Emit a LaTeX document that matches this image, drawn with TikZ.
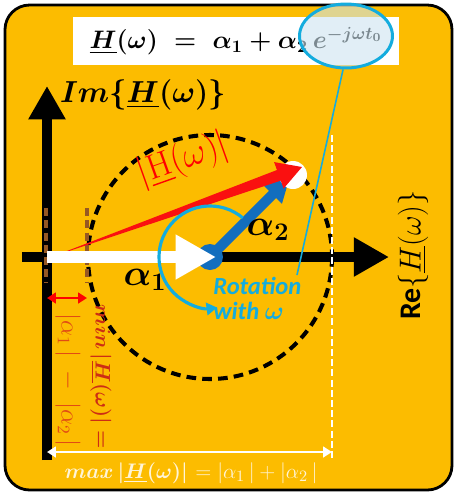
\documentclass[tikz,border=0pt]{standalone}
\usepackage{amsmath,amssymb}
\usepackage{fontspec}
\newfontfamily\calibfont{Carlito}
\usepackage{tikz}
\usetikzlibrary{arrows.meta,calc,positioning,shapes.geometric}

\definecolor{gold}{RGB}{252,188,0}
\definecolor{skyline}{RGB}{20,172,222}
\definecolor{ellfill}{RGB}{205,228,240}
\definecolor{phasorblue}{RGB}{18,110,190}
\definecolor{dashbrown}{RGB}{150,88,35}
\definecolor{wedgered}{RGB}{250,16,16}
\definecolor{minred}{RGB}{205,45,20}
\definecolor{diffred}{RGB}{225,75,20}
\definecolor{cream}{RGB}{255,244,214}

\begin{document}
\begin{tikzpicture}[
    x=0.02cm, y=-0.02cm,
    titlebox/.style={fill=white, minimum width=6.54cm, minimum height=0.96cm, inner sep=0pt, font=\boldmath\fontsize{14.4}{16}\selectfont},
    ellmark/.style={ellipse, draw=skyline, line width=1.7pt, fill=ellfill, fill opacity=0.6, minimum width=1.86cm, minimum height=1.28cm, inner sep=0pt},
    axisline/.style={line width=6.2pt, -{Triangle[length=19pt,width=20pt]}},
    ring/.style={line width=2.3pt, dash pattern=on 5.5pt off 3.5pt},
    brownmark/.style={dashbrown, line width=2.2pt, dash pattern=on 4.5pt off 2.5pt},
    whitemark/.style={white, line width=1.7pt, dash pattern=on 4pt off 1.8pt},
    spanarrow/.style={line width=1.7pt, {Triangle[length=5pt,width=6pt]}-{Triangle[length=5pt,width=6pt]}},
    lbl/.style={inner sep=0pt, font=\boldmath\fontsize{20.74}{22}\selectfont}
]
    \useasboundingbox (0,0) rectangle (457,495);
    \draw[line width=1.6pt, fill=gold, rounded corners=14pt] (5,5) rectangle (452,490);

    \node[titlebox] (title) at (236,41) {$\underline{H}(\omega)\ =\ \alpha_1+\alpha_2\,e^{-j\omega t_0}$};
    \node[ellmark] (ell) at (346,36) {};

    \coordinate (orig) at (47,257);
    \coordinate (ctr) at (210,257);
    \coordinate (tip) at (296,171);
    \coordinate (htip) at (302,167);
    \coordinate (hstart) at (54,256);
    \coordinate (imtop) at (47,86);
    \coordinate (imbot) at (47,460);
    \coordinate (releft) at (22,257);
    \coordinate (reright) at (389,257);
    \coordinate (a1tip) at (216,257);
    \coordinate (maxtop) at (332,135);
    \coordinate (maxbot) at (332,460);
    \coordinate (maxleft) at (47,452);
    \coordinate (maxright) at (332,452);
    \coordinate (mintop) at (46,208);
    \coordinate (minbot) at (46,282);
    \coordinate (ringtop) at (87,208);
    \coordinate (ringbot) at (87,282);
    \coordinate (mina) at (47,298);
    \coordinate (minb) at (87,298);
    \coordinate (rotlink) at (297,275);

    \draw[axisline] (imbot) -- (imtop);
    \draw[axisline, -{Triangle[length=20pt,width=21pt]}] (releft) -- (reright);
    \draw[ring] (ctr) circle[radius=122];
    \draw[whitemark] (maxtop) -- (maxbot);
    \draw[brownmark] (mintop) -- (minbot);
    \draw[brownmark] (ringtop) -- (ringbot);
    \draw[spanarrow, red] (mina) -- (minb);
    \draw[spanarrow, white] (maxleft) -- (maxright);

    \fill[phasorblue] (ctr) circle[radius=13];
    \draw[phasorblue, line width=5.7pt, -{Triangle[length=14pt,width=14pt]}] (ctr) -- ($(ctr)!0.93!(tip)$);
    \fill[white] (293,175) circle[radius=14];
    \coordinate (hbase) at ($(htip)!14pt!(hstart)$);
    \fill[wedgered] (hstart) -- ($(hbase)!3.2pt!90:(htip)$) -- ($(hbase)!8pt!90:(htip)$) -- (htip) -- ($(hbase)!8pt!-90:(htip)$) -- ($(hbase)!3.2pt!-90:(htip)$) -- cycle;
    \draw[white, line width=6.8pt, -{Triangle[length=23pt,width=24pt]}] (orig) -- (a1tip);
    \draw[skyline, line width=1.8pt, -{Triangle[length=6pt,width=7pt]}] ($(ctr)+(-50:51)$) arc[start angle=-50, end angle=-278, radius=51];
    \draw[skyline, line width=0.9pt] (ell.-95) -- (rotlink);

    \node[font=\boldmath\fontsize{16}{16}\selectfont] (imlbl) at (143,95) {$Im\{\underline{H}(\omega)\}$};
    \node[rotate=90, font=\fontsize{17}{17}\selectfont] (relbl) at (413,255) {{\calibfont\bfseries Re}$\{\underline{H}(\omega)\}$};
    \node[lbl] (a1) at (145,280) {$\alpha_1$};
    \node[lbl] (a2) at (268,230) {$\alpha_2$};
    \node[rotate=19.6, text=red, font=\fontsize{20}{20}\selectfont] (hlbl) at (183,160) {$\left|\underline{\mathrm{H}}(\omega)\right|$};
    \node[anchor=north west, align=left, inner sep=0pt, text=skyline, font=\calibfont\bfseries\itshape\fontsize{14}{14}\selectfont] (rot) at (213,277) {Rotation\\with $\boldsymbol{\omega}$};
    \node[rotate=-90, text=minred, font=\boldmath\fontsize{12}{12}\selectfont] (minlbl) at (101,377) {$min\left|\underline{H}(\omega)\right| =$};
    \node[rotate=-90, text=diffred, font=\fontsize{14.4}{14.4}\selectfont] (diflbl) at (68,380) {$|\alpha_1\,|\;-\;|\alpha_2\,|$};
    \node[text=cream, font=\fontsize{13}{13}\selectfont] (maxlbl) at (191,473) {{\boldmath$max\left|\underline{H}(\omega)\right|$}$\ =|\alpha_1\,|+|\alpha_2\,|$};
\end{tikzpicture}
\end{document}
